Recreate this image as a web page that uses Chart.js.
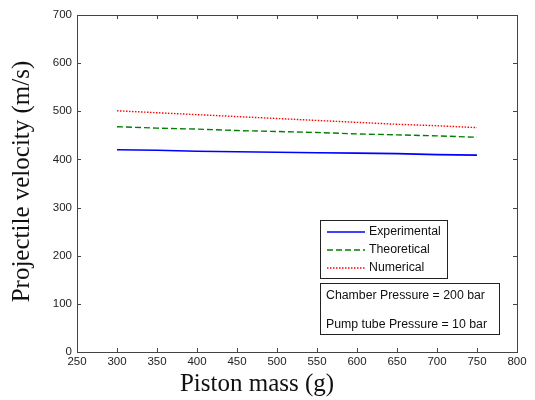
<!DOCTYPE html>
<html>
<head>
<meta charset="utf-8">
<script src="https://cdn.jsdelivr.net/npm/chart.js@4"></script>
<style>
  html, body { margin: 0; padding: 0; background: #fff; }
  #wrap { width: 535px; height: 400px; }
</style>
</head>
<body>
<div id="wrap"><canvas id="chart" width="535" height="400"></canvas></div>
<script>
// data
const pistonMass = [300, 350, 400, 450, 500, 550, 600, 650, 700, 750];
const experimental = [420, 419, 417, 416, 415, 414, 413, 412, 410, 409];
const theoretical = [468, 465, 463, 460, 458, 456, 453, 451, 449, 446];
const numerical = [501, 497, 493, 489, 485, 481, 477, 473, 470, 466];
const xTicks = [250, 300, 350, 400, 450, 500, 550, 600, 650, 700, 750, 800];
const yTicks = [0, 100, 200, 300, 400, 500, 600, 700];
const xTitle = 'Piston mass (g)';
const yTitle = 'Projectile velocity (m/s)';
const noteLines = ['Chamber Pressure = 200 bar', '', 'Pump tube Pressure = 10 bar'];

const pts = arr => arr.map((v, i) => ({ x: pistonMass[i], y: v }));

// box + inward ticks on all four sides, like the matlab figure
const boxPlugin = {
  id: 'box',
  afterDatasetsDraw(chart) {
    const { ctx, chartArea: a, scales } = chart;
    ctx.save();
    ctx.strokeStyle = '#444';
    ctx.lineWidth = 1;
    ctx.strokeRect(a.left + 0.5, a.top + 0.5, a.right - a.left, a.bottom - a.top);
    ctx.beginPath();
    xTicks.forEach(t => {
      const px = Math.round(scales.x.getPixelForValue(t)) + 0.5;
      ctx.moveTo(px, a.bottom); ctx.lineTo(px, a.bottom - 4);
      ctx.moveTo(px, a.top); ctx.lineTo(px, a.top + 4);
    });
    yTicks.forEach(t => {
      const py = Math.round(scales.y.getPixelForValue(t)) + 0.5;
      ctx.moveTo(a.left, py); ctx.lineTo(a.left + 4, py);
      ctx.moveTo(a.right, py); ctx.lineTo(a.right - 4, py);
    });
    ctx.stroke();

    // axis titles (serif, as in the figure)
    ctx.fillStyle = '#111';
    ctx.font = '25px "Liberation Serif", "Times New Roman", serif';
    ctx.textAlign = 'center';
    ctx.textBaseline = 'middle';
    ctx.fillText(xTitle, a.left + 180, 384);
    ctx.translate(22, (a.top + a.bottom) / 2 - 2);
    ctx.rotate(-Math.PI / 2);
    ctx.fillText(yTitle, 0, 0);
    ctx.restore();
  }
};

// legend and the pressure note, placed inside the axes
const insetPlugin = {
  id: 'inset',
  afterDraw(chart) {
    const { ctx, chartArea: a } = chart;
    ctx.save();
    const lx = a.left + 243, ly = a.top + 205, lw = 127, lh = 58;
    ctx.fillStyle = '#fff';
    ctx.fillRect(lx, ly, lw, lh);
    ctx.strokeStyle = '#222';
    ctx.lineWidth = 1;
    ctx.strokeRect(lx + 0.5, ly + 0.5, lw, lh);
    ctx.font = '12.3px "Liberation Sans", Arial, sans-serif';
    ctx.textBaseline = 'middle';
    chart.data.datasets.forEach((ds, i) => {
      const y = ly + 12 + i * 18;
      ctx.strokeStyle = ds.borderColor;
      ctx.lineWidth = ds.borderWidth;
      ctx.setLineDash(ds.borderDash || []);
      ctx.beginPath();
      ctx.moveTo(lx + 7, y); ctx.lineTo(lx + 45, y);
      ctx.stroke();
      ctx.setLineDash([]);
      ctx.fillStyle = '#111';
      ctx.fillText(ds.label, lx + 49, y);
    });
    const nx = lx, ny = ly + 63, nw = 179, nh = 51;
    ctx.fillStyle = '#fff';
    ctx.fillRect(nx, ny, nw, nh);
    ctx.strokeStyle = '#222';
    ctx.lineWidth = 1;
    ctx.strokeRect(nx + 0.5, ny + 0.5, nw, nh);
    ctx.fillStyle = '#111';
    ctx.font = '12.3px "Liberation Sans", Arial, sans-serif';
    noteLines.forEach((t, i) => ctx.fillText(t, nx + 6, ny + 13 + i * 14.5));
    ctx.restore();
  }
};

new Chart(document.getElementById('chart'), {
  type: 'line',
  data: {
    datasets: [
      { label: 'Experimental', data: pts(experimental), borderColor: '#0000ff', borderWidth: 1.6 },
      { label: 'Theoretical', data: pts(theoretical), borderColor: '#008000', borderWidth: 1.4, borderDash: [6, 3] },
      { label: 'Numerical', data: pts(numerical), borderColor: '#ff0000', borderWidth: 1.4, borderDash: [1.5, 1.5] }
    ]
  },
  options: {
    responsive: false,
    animation: false,
    layout: { padding: { top: 15, right: 18, left: 0, bottom: 0 } },
    elements: { point: { radius: 0 }, line: { tension: 0, fill: false } },
    plugins: { legend: { display: false }, tooltip: { enabled: false } },
    scales: {
      x: {
        type: 'linear', min: 250, max: 800,
        afterBuildTicks: s => { s.ticks = xTicks.map(v => ({ value: v })); },
        afterFit: s => { s.height = 48; },
        grid: { display: false, drawTicks: false },
        border: { display: false },
        ticks: { color: '#222', padding: 3, font: { family: 'Liberation Sans', size: 11.5 } }
      },
      y: {
        min: 0, max: 700,
        afterBuildTicks: s => { s.ticks = yTicks.map(v => ({ value: v })); },
        afterFit: s => { s.width = 77; },
        grid: { display: false, drawTicks: false },
        border: { display: false },
        ticks: { color: '#222', padding: 5, font: { family: 'Liberation Sans', size: 11.5 } }
      }
    }
  },
  plugins: [boxPlugin, insetPlugin]
});
</script>
</body>
</html>
